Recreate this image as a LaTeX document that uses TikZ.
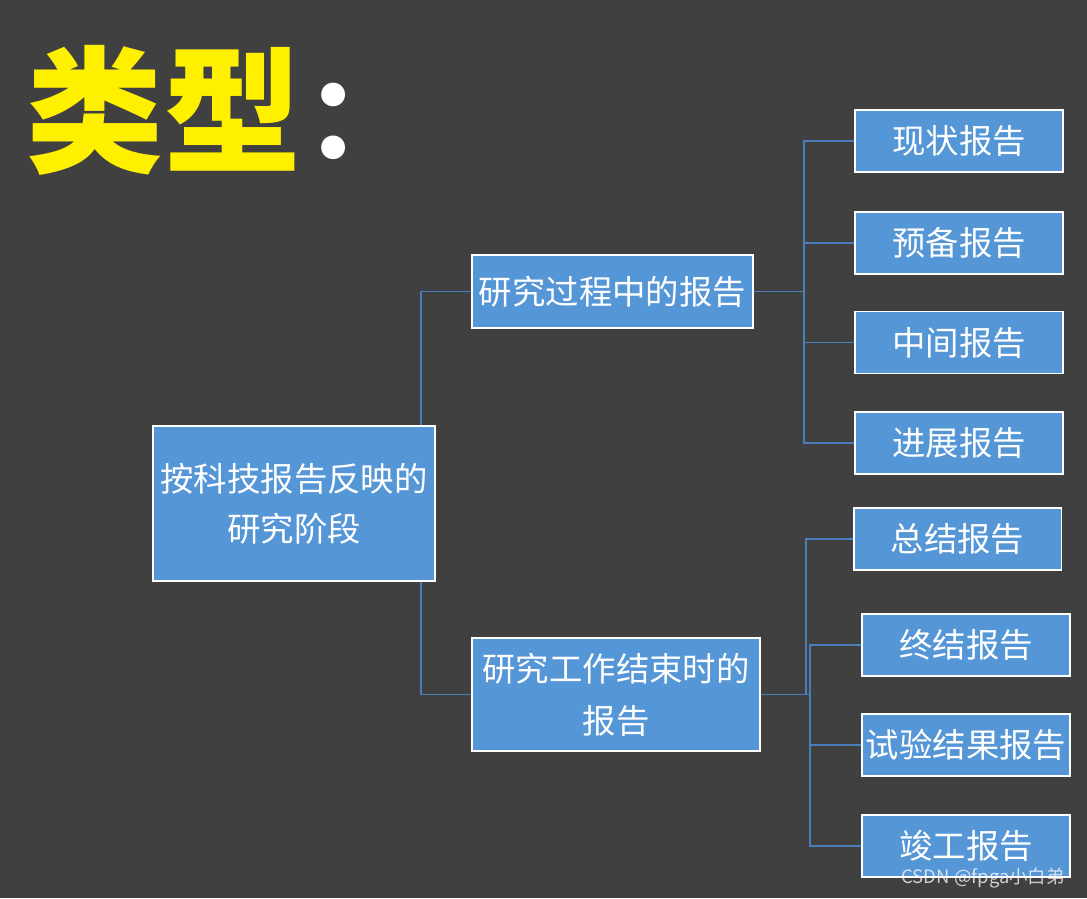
\documentclass[tikz,border=0pt]{standalone}
\usepackage{fontspec}
\setmainfont{Noto Sans CJK SC}
\usepackage{xcolor}
\usepackage{tikz}
\usetikzlibrary{positioning}
\definecolor{bgdark}{RGB}{64,64,64}
\definecolor{boxblue}{RGB}{85,150,214}
\definecolor{linkblue}{RGB}{74,126,186}
\definecolor{titleyellow}{RGB}{255,240,0}

\begin{document}
\begin{tikzpicture}[
  x=0.02cm, y=-0.02cm,
  box/.style={draw=white, line width=1.1pt, fill=boxblue, text=white, align=center,
    inner sep=0pt, font=\fontsize{19}{28.5}\selectfont},
  leaf/.style={box, minimum width=4.16cm, minimum height=1.24cm},
  link/.style={draw=linkblue, line width=1.1pt},
  ttl/.style={inner sep=0pt, font=\fontsize{78}{80}\selectfont\bfseries}
]
  % background
  \fill[bgdark] (0,0) rectangle (1087,898);
  \useasboundingbox (0,0) rectangle (1087,898);

  % title
  \node[ttl, text=titleyellow] (title) at (164,110) {类型};
  \node[ttl, text=white, anchor=west, font=\fontsize{64}{66}\selectfont\bfseries] (colon) at (305,121) {：};

  % tree
  \node[box, minimum width=5.64cm, minimum height=3.1cm] (root) at (294,503.5) {按科技报告反映的\\研究阶段};
  \node[box, minimum width=5.62cm, minimum height=1.46cm] (proc) at (612.5,291.5) {研究过程中的报告};
  \node[box, minimum width=5.76cm, minimum height=2.26cm, font=\fontsize{19}{29.5}\selectfont] (fin) at (616,694.5) {研究工作结束时的\\报告};

  \node[leaf] (xz) at (959,141) {现状报告};
  \node[leaf] (yb) at (959,243) {预备报告};
  \node[leaf] (zj) at (959,342.5) {中间报告};
  \node[leaf] (jz) at (959,443) {进展报告};

  \node[leaf] (zongj) at (957.5,539) {总结报告};
  \node[leaf] (zhongj) at (966,645) {终结报告};
  \node[leaf] (sy) at (966,745) {试验结果报告};
  \node[leaf] (jg) at (966,846) {竣工报告};

  % connectors
  \coordinate (ja) at (421,0);
  \coordinate (jb) at (804,0);
  \coordinate (jc) at (806,0);
  \coordinate (jd) at (810,0);
  \draw[link] (proc.west) -| (ja |- root.north);
  \draw[link] (fin.west) -| (ja |- root.south);
  \foreach \n in {xz,yb,zj,jz}
    \draw[link] (proc.east) -| (jb |- \n.west) -- (\n.west);
  \draw[link] (fin.east) -| (jc |- zongj.west) -- (zongj.west);
  \foreach \n in {zhongj,sy,jg}
    \draw[link] (fin.east) -| (jd |- \n.west) -- (\n.west);

  \node[anchor=east, text=white, opacity=0.75, font=\fontsize{10.5}{12}\selectfont] (mark) at (1071,878) {CSDN @fpga小白弟};
\end{tikzpicture}
\end{document}
